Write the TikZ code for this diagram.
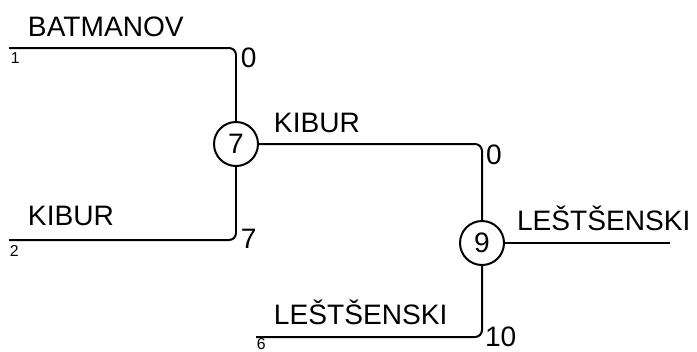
\documentclass[tikz,border=0pt]{standalone}
\usepackage{fontspec}
\setmainfont{Liberation Sans}
\usepackage{tikz}

\begin{document}
\begin{tikzpicture}[x=0.03cm, y=-0.03cm, line width=1.7pt,
    match/.style={circle, draw, minimum size=1.32cm, inner sep=0pt, font=\fontsize{24}{28}\selectfont},
    player/.style={anchor=base west, inner sep=0pt, font=\fontsize{24}{28}\selectfont},
    score/.style={anchor=base west, inner sep=0pt, font=\fontsize{24}{28}\selectfont},
    seed/.style={anchor=base west, inner sep=0pt, font=\fontsize{13.5}{16}\selectfont},
    bracket/.style={rounded corners=6}]
                    \useasboundingbox (0,0) rectangle (697,351);
                    % Nodes
                    \node[match] (m7) at (236, 144) {7};
                    \node[match] (m9) at (482, 243) {9};

                    \coordinate (s1) at (9, 48);
                    \coordinate (s2) at (9, 240);
                    \coordinate (s6) at (256, 337);
                    \coordinate (win) at (670, 243);

                    % Names
                    \node[player] (n1) at (27, 36) {BATMANOV};
                    \node[player] (n2) at (27, 225) {KIBUR};
                    \node[player] (n7) at (273, 132) {KIBUR};
                    \node[player] (n6) at (273, 324) {LEŠTŠENSKI};
                    \node[player] (n9) at (516, 230) {LEŠTŠENSKI};

                    % Seeds and scores
                    \node[seed] (d1) at (10, 63) {1};
                    \node[seed] (d2) at (9, 256) {2};
                    \node[seed] (d6) at (256, 349) {6};
                    \node[score] (r1) at (240, 67) {0};
                    \node[score] (r2) at (240, 248) {7};
                    \node[score] (r7) at (485, 164) {0};
                    \node[score] (r6) at (484, 346) {10};

                    % Edges
                    \draw[bracket] (s1) -| (m7);
                    \draw[bracket] (s2) -| (m7);
                    \draw[bracket] (m7) -| (m9);
                    \draw[bracket] (s6) -| (m9);
                    \draw (m9) -- (win);
\end{tikzpicture}
\end{document}
